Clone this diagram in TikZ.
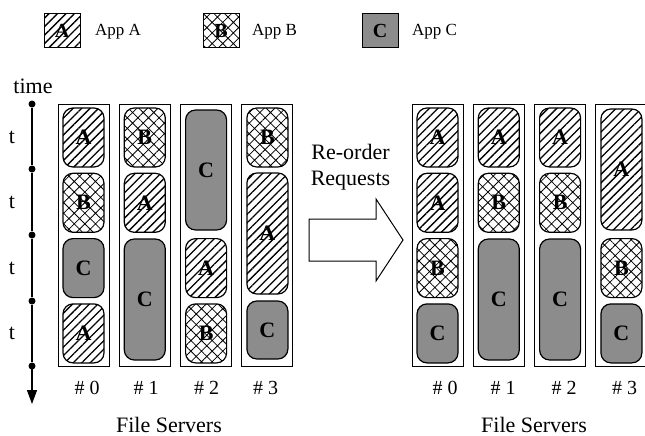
\documentclass[tikz,border=0pt]{standalone}
\usepackage{fontspec}
\setmainfont{Liberation Serif}
\usetikzlibrary{patterns.meta,arrows.meta}
\newcommand\myfs[1]{\fontsize{#1}{#1}\selectfont}
\begin{document}
\begin{tikzpicture}[x=1pt,y=-1pt,
  server/.style={draw,line width=0.9pt,minimum width=51pt,minimum height=262pt,inner sep=0pt,outer sep=0pt},
  block/.style={draw,line width=1.2pt,rounded corners=10pt,minimum width=41pt,inner sep=0pt,outer sep=0pt,font=\myfs{22}\bfseries},
  legbox/.style={draw,line width=1pt,minimum width=36pt,minimum height=34pt,inner sep=0pt,font=\myfs{20}\bfseries},
  appA/.style={pattern={Lines[angle=45,distance=6pt,line width=1.3pt]}},
  appB/.style={pattern={Hatch[angle=45,distance=7.5pt,line width=0.8pt]}},
  appC/.style={fill=black!45},
  lbl/.style={inner sep=0pt,font=\myfs{22}},
  num/.style={inner sep=0pt,font=\myfs{20}},
  leg/.style={inner sep=0pt,anchor=west,font=\myfs{17}},
  dot/.style={circle,fill,inner sep=0pt,minimum size=7pt}]
\useasboundingbox (0,0) rectangle (645,436);

% legend
\node[legbox,appA] (legA) at (62,31) {A};
\node[leg] (legAt) at (95,32) {App A};
\node[legbox,appB] (legB) at (221,31) {B};
\node[leg] (legBt) at (252,32) {App B};
\node[legbox,appC] (legC) at (380,31) {C};
\node[leg] (legCt) at (412,32) {App C};

% time axis
\node[lbl] (time) at (33,86) {time};
\node[dot] (t0) at (32,104) {};
\node[dot] (t1) at (32,169) {};
\node[dot] (t2) at (32,235) {};
\node[dot] (t3) at (32,301) {};
\node[dot] (t4) at (32,366) {};
\coordinate (tend) at (32,404);
\draw[line width=1.2pt] (t0) -- (t1) -- (t2) -- (t3) -- (t4);
\draw[line width=1.2pt,-{Triangle[width=10pt,length=14pt]}] (t4.center) -- (tend);
\node[lbl] (tl0) at (12,137) {t};
\node[lbl] (tl1) at (12,202) {t};
\node[lbl] (tl2) at (12,268) {t};
\node[lbl] (tl3) at (12,333) {t};

% left servers
\node[server] (L0) at (83.5,235) {};
\node[server] (L1) at (144.8,235) {};
\node[server] (L2) at (206.1,235) {};
\node[server] (L3) at (267.4,235) {};

\node[block,appA,minimum height=59pt] (L0a) at (83.5,137.5) {A};
\node[block,appB,minimum height=59pt] (L0b) at (83.5,202.8) {B};
\node[block,appC,minimum height=59pt] (L0c) at (83.5,268.1) {C};
\node[block,appA,minimum height=59pt] (L0d) at (83.5,333.4) {A};

\node[block,appB,minimum height=59pt] (L1a) at (144.8,137.5) {B};
\node[block,appA,minimum height=59pt] (L1b) at (144.8,202.8) {A};
\node[block,appC,minimum height=121pt] (L1c) at (144.8,299.5) {C};

\node[block,appC,minimum height=120pt] (L2a) at (206.1,170) {C};
\node[block,appA,minimum height=59pt] (L2b) at (206.1,268.1) {A};
\node[block,appB,minimum height=59pt] (L2c) at (206.1,333.4) {B};

\node[block,appB,minimum height=59pt] (L3a) at (267.4,137.5) {B};
\node[block,appA,minimum height=121pt] (L3b) at (267.4,233.5) {A};
\node[block,appC,minimum height=58pt] (L3c) at (267.4,330) {C};

\node[num] (Ln0) at (87,388) {\# 0};
\node[num] (Ln1) at (146,388) {\# 1};
\node[num] (Ln2) at (206.5,388) {\# 2};
\node[num] (Ln3) at (265.5,388) {\# 3};
\node[lbl,anchor=base] (Lfs) at (169,432) {File Servers};

% big arrow
\draw[line width=1pt,fill=white] (309,219) -- (376,219) -- (376,199) -- (403,240)
  -- (376,281) -- (376,261) -- (309,261) -- cycle;
\node[lbl,anchor=base] (reo) at (350.5,159) {Re-order};
\node[lbl,anchor=base] (req) at (350.5,185) {Requests};

% right servers
\node[server] (R0) at (437.5,235) {};
\node[server] (R1) at (498.8,235) {};
\node[server] (R2) at (560.1,235) {};
\node[server] (R3) at (621.4,235) {};

\node[block,appA,minimum height=59pt] (R0a) at (437.5,137.5) {A};
\node[block,appA,minimum height=59pt] (R0b) at (437.5,202.8) {A};
\node[block,appB,minimum height=59pt] (R0c) at (437.5,268.1) {B};
\node[block,appC,minimum height=59pt] (R0d) at (437.5,333.4) {C};

\node[block,appA,minimum height=59pt] (R1a) at (498.8,137.5) {A};
\node[block,appB,minimum height=59pt] (R1b) at (498.8,202.8) {B};
\node[block,appC,minimum height=121pt] (R1c) at (498.8,299.5) {C};

\node[block,appA,minimum height=59pt] (R2a) at (560.1,137.5) {A};
\node[block,appB,minimum height=59pt] (R2b) at (560.1,202.8) {B};
\node[block,appC,minimum height=121pt] (R2c) at (560.1,299.5) {C};

\node[block,appA,minimum height=121pt] (R3a) at (621.4,169.5) {A};
\node[block,appB,minimum height=59pt] (R3b) at (621.4,268.1) {B};
\node[block,appC,minimum height=59pt] (R3c) at (621.4,333.4) {C};

\node[num] (Rn0) at (445,388) {\# 0};
\node[num] (Rn1) at (503,388) {\# 1};
\node[num] (Rn2) at (564,388) {\# 2};
\node[num] (Rn3) at (624.5,388) {\# 3};
\node[lbl,anchor=base] (Rfs) at (534,432) {File Servers};
\end{tikzpicture}
\end{document}
